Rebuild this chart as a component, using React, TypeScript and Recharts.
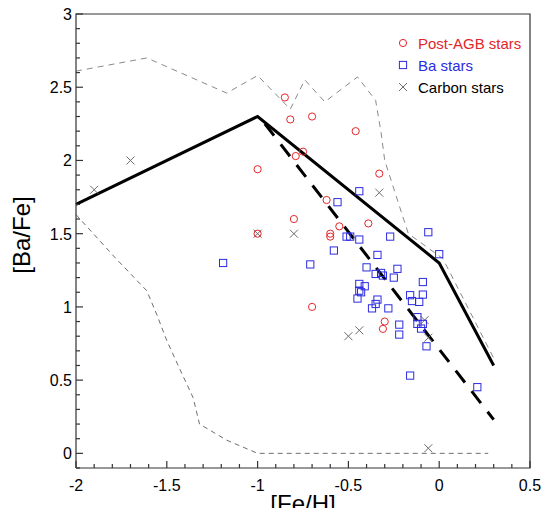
import { ComposedChart, Line, Scatter, XAxis, YAxis } from "recharts";

// [Fe/H], [Ba/Fe]
const postAgbStars = [
  { x: -1.0, y: 1.94 }, { x: -1.0, y: 1.5 }, { x: -0.85, y: 2.43 }, { x: -0.82, y: 2.28 },
  { x: -0.7, y: 2.3 }, { x: -0.46, y: 2.2 }, { x: -0.79, y: 2.03 }, { x: -0.75, y: 2.06 },
  { x: -0.33, y: 1.91 }, { x: -0.62, y: 1.73 }, { x: -0.8, y: 1.6 }, { x: -0.55, y: 1.55 },
  { x: -0.39, y: 1.57 }, { x: -0.6, y: 1.5 }, { x: -0.6, y: 1.48 }, { x: -0.7, y: 1.0 },
  { x: -0.3, y: 0.9 }, { x: -0.31, y: 0.85 },
];

const baStars = [
  { x: -1.19, y: 1.3 }, { x: -0.44, y: 1.79 }, { x: -0.56, y: 1.715 }, { x: -0.06, y: 1.51 },
  { x: -0.51, y: 1.48 }, { x: -0.49, y: 1.48 }, { x: -0.44, y: 1.46 }, { x: -0.27, y: 1.48 },
  { x: -0.58, y: 1.385 }, { x: -0.34, y: 1.355 }, { x: 0.0, y: 1.36 }, { x: -0.71, y: 1.29 },
  { x: -0.4, y: 1.27 }, { x: -0.35, y: 1.225 }, { x: -0.32, y: 1.232 }, { x: -0.31, y: 1.214 },
  { x: -0.23, y: 1.26 }, { x: -0.25, y: 1.2 }, { x: -0.44, y: 1.157 }, { x: -0.41, y: 1.141 },
  { x: -0.44, y: 1.111 }, { x: -0.43, y: 1.1 }, { x: -0.45, y: 1.057 }, { x: -0.34, y: 1.05 },
  { x: -0.35, y: 1.02 }, { x: -0.37, y: 0.99 }, { x: -0.28, y: 0.99 }, { x: -0.16, y: 1.08 },
  { x: -0.15, y: 1.04 }, { x: -0.09, y: 1.17 }, { x: -0.09, y: 1.084 }, { x: -0.11, y: 1.034 },
  { x: -0.12, y: 0.93 }, { x: -0.12, y: 0.884 }, { x: -0.09, y: 0.884 }, { x: -0.1, y: 0.852 },
  { x: -0.22, y: 0.879 }, { x: -0.22, y: 0.811 }, { x: -0.07, y: 0.731 }, { x: -0.16, y: 0.531 },
  { x: 0.21, y: 0.452 },
];

const carbonStars = [
  { x: -1.9, y: 1.8 }, { x: -1.7, y: 2.0 }, { x: -1.0, y: 1.5 }, { x: -0.8, y: 1.5 },
  { x: -0.33, y: 1.78 }, { x: -0.5, y: 0.8 }, { x: -0.44, y: 0.84 }, { x: -0.08, y: 0.91 },
  { x: -0.06, y: 0.79 }, { x: -0.06, y: 0.035 },
];

const modelSolid = [
  { x: -2, y: 1.7 }, { x: -1, y: 2.3 }, { x: 0, y: 1.3 }, { x: 0.3, y: 0.6 },
];

const modelDashed = [
  { x: -0.96, y: 2.25 }, { x: 0.3, y: 0.23 },
];

const upperEnvelope = [
  { x: -2, y: 2.61 }, { x: -1.61, y: 2.7 }, { x: -1.17, y: 2.46 }, { x: -1.0, y: 2.58 },
  { x: -0.82, y: 2.35 }, { x: -0.74, y: 2.55 }, { x: -0.63, y: 2.4 }, { x: -0.45, y: 2.57 },
  { x: -0.35, y: 2.41 }, { x: -0.32, y: 2.19 }, { x: -0.3, y: 2.0 }, { x: -0.23, y: 1.73 },
  { x: -0.17, y: 1.5 }, { x: 0.02, y: 1.33 }, { x: 0.3, y: 0.65 },
];

const lowerEnvelope = [
  { x: -2, y: 1.63 }, { x: -1.78, y: 1.33 }, { x: -1.61, y: 1.11 }, { x: -1.556, y: 0.95 },
  { x: -1.5, y: 0.77 }, { x: -1.43, y: 0.58 }, { x: -1.355, y: 0.38 }, { x: -1.32, y: 0.2 },
  { x: -1.17, y: 0.09 }, { x: -1.0, y: 0.0 }, { x: 0.27, y: 0.0 },
];

const X_DOMAIN = [-2, 0.5];
const Y_DOMAIN = [-0.1, 3];
const X_MAJOR = [-2, -1.5, -1, -0.5, 0, 0.5];
const X_TICKS = [
  -2, -1.9, -1.8, -1.7, -1.6, -1.5, -1.4, -1.3, -1.2, -1.1, -1, -0.9, -0.8, -0.7, -0.6,
  -0.5, -0.4, -0.3, -0.2, -0.1, 0, 0.1, 0.2, 0.3, 0.4, 0.5,
];
const Y_MAJOR = [0, 0.5, 1, 1.5, 2, 2.5, 3];
const Y_TICKS = [
  -0.1, 0, 0.1, 0.2, 0.3, 0.4, 0.5, 0.6, 0.7, 0.8, 0.9, 1, 1.1, 1.2, 1.3, 1.4, 1.5, 1.6,
  1.7, 1.8, 1.9, 2, 2.1, 2.2, 2.3, 2.4, 2.5, 2.6, 2.7, 2.8, 2.9, 3,
];

// plot frame, drawn through the scales along the domain edges
const frameBox = [
  { x: X_DOMAIN[0], y: Y_DOMAIN[0] }, { x: X_DOMAIN[1], y: Y_DOMAIN[0] },
  { x: X_DOMAIN[1], y: Y_DOMAIN[1] }, { x: X_DOMAIN[0], y: Y_DOMAIN[1] },
  { x: X_DOMAIN[0], y: Y_DOMAIN[0] },
];

const FONT = "'Liberation Sans', Arial, Helvetica, sans-serif";
const RED = "#e3262b";
const BLUE = "#2b2be0";
const GREY = "#6b6b6b";
const FRAME = "#333338";
const FRAME_W = 1.2;
const MAJOR_LEN = 7;
const MINOR_LEN = 4;
// axes need a positive size to render, but should take no room
const THIN = 0.001;

const isMajor = (v: number, majors: number[]) => majors.some((m) => Math.abs(m - v) < 1e-6);

// ticks point into the plot; labels only on the bottom and left
function makeTick(side: "bottom" | "top" | "left" | "right") {
  return (p: any) => {
    const v = p.payload.value;
    const major = isMajor(v, side === "bottom" || side === "top" ? X_MAJOR : Y_MAJOR);
    const len = major ? MAJOR_LEN : MINOR_LEN;
    const x = Number(p.x);
    const y = Number(p.y);
    let x2 = x;
    let y2 = y;
    if (side === "bottom") y2 = y - len;
    else if (side === "top") y2 = y + len;
    else if (side === "left") x2 = x + len;
    else x2 = x - len;
    return (
      <g>
        <line x1={x} y1={y} x2={x2} y2={y2} stroke={FRAME} strokeWidth={FRAME_W} />
        {major && side === "bottom" && (
          <text x={x} y={y + 23} textAnchor="middle" fontSize={16} fontFamily={FONT} fill="#000">
            {String(v)}
          </text>
        )}
        {major && side === "left" && (
          <text x={x - 4} y={y + 6} textAnchor="end" fontSize={16} fontFamily={FONT} fill="#000">
            {String(v)}
          </text>
        )}
      </g>
    );
  };
}

const Circle = (p: any) => (
  <circle cx={p.cx} cy={p.cy} r={3.6} fill="none" stroke={RED} strokeWidth={1} />
);
const Square = (p: any) => (
  <rect x={p.cx - 3.6} y={p.cy - 3.6} width={7.2} height={7.2} fill="none" stroke={BLUE} strokeWidth={1} />
);
const Cross = (p: any) => (
  <path
    d={`M${p.cx - 4},${p.cy - 4}L${p.cx + 4},${p.cy + 4}M${p.cx + 4},${p.cy - 4}L${p.cx - 4},${p.cy + 4}`}
    stroke={GREY}
    strokeWidth={1}
    fill="none"
  />
);

const LEGEND_ROWS = [
  { name: "Post-AGB stars", color: RED, mark: "circle" },
  { name: "Ba stars", color: BLUE, mark: "square" },
  { name: "Carbon stars", color: "#000", mark: "cross" },
];

function LegendBox() {
  return (
    <div style={{ position: "absolute", left: 397, top: 32, fontFamily: FONT, fontSize: 15 }}>
      {LEGEND_ROWS.map((r) => (
        <div key={r.name} style={{ display: "flex", alignItems: "center", height: 22 }}>
          <svg width={12} height={12} style={{ marginRight: 9 }}>
            {r.mark === "circle" && <Circle cx={6} cy={6} />}
            {r.mark === "square" && <Square cx={6} cy={6} />}
            {r.mark === "cross" && <Cross cx={6} cy={6} />}
          </svg>
          <span style={{ color: r.color }}>{r.name}</span>
        </div>
      ))}
    </div>
  );
}

const YTitle = ({ viewBox }: any) => {
  const cx = viewBox.x - 46;
  const cy = viewBox.y + viewBox.height / 2 - 6;
  return (
    <text x={cx} y={cy} transform={`rotate(-90 ${cx} ${cy})`} textAnchor="middle" fontSize={24} fontFamily={FONT} fill="#000">
      [Ba/Fe]
    </text>
  );
};

const XTitle = ({ viewBox }: any) => {
  const cx = viewBox.x + viewBox.width / 2;
  const cy = viewBox.y + 44;
  return (
    <text x={cx} y={cy} textAnchor="middle" fontSize={24} fontFamily={FONT} fill="#000">
      [Fe/H]
    </text>
  );
};

export default function App() {
  return (
    <div style={{ margin: -8, position: "relative", width: 551, height: 516 }}>
      <ComposedChart width={551} height={516} margin={{ top: 14, right: 21, bottom: 48, left: 76 }}>
        <XAxis
          xAxisId="x" type="number" dataKey="x" domain={X_DOMAIN} ticks={X_TICKS}
          interval={0} height={THIN} tickSize={0} tickMargin={0} tickLine={false} axisLine={false}
          tick={makeTick("bottom")} label={<XTitle />}
        />
        <XAxis
          xAxisId="xTop" orientation="top" type="number" dataKey="x" domain={X_DOMAIN}
          ticks={X_TICKS} interval={0} height={THIN} tickSize={0} tickMargin={0} tickLine={false}
          axisLine={false} tick={makeTick("top")}
        />
        <YAxis
          yAxisId="y" type="number" dataKey="y" domain={Y_DOMAIN} ticks={Y_TICKS}
          interval={0} width={THIN} tickSize={0} tickMargin={0} tickLine={false} axisLine={false}
          tick={makeTick("left")} label={<YTitle />}
        />
        <YAxis
          yAxisId="yRight" orientation="right" type="number" dataKey="y" domain={Y_DOMAIN}
          ticks={Y_TICKS} interval={0} width={THIN} tickSize={0} tickMargin={0} tickLine={false}
          axisLine={false} tick={makeTick("right")}
        />

        <Line data={upperEnvelope} xAxisId="x" yAxisId="y" dataKey="y" type="linear" stroke="#8a8a8a"
          strokeWidth={1} strokeDasharray="6 5" dot={false} isAnimationActive={false} />
        <Line data={lowerEnvelope} xAxisId="x" yAxisId="y" dataKey="y" type="linear" stroke="#6e6e6e"
          strokeWidth={1} strokeDasharray="5 4" dot={false} isAnimationActive={false} />
        <Line data={modelSolid} xAxisId="x" yAxisId="y" dataKey="y" type="linear" stroke="#000"
          strokeWidth={3} dot={false} isAnimationActive={false} />
        <Line data={modelDashed} xAxisId="x" yAxisId="y" dataKey="y" type="linear" stroke="#000"
          strokeWidth={3} strokeDasharray="15 11" dot={false} isAnimationActive={false} />
        <Line data={frameBox} xAxisId="x" yAxisId="y" dataKey="y" type="linear" stroke={FRAME}
          strokeWidth={FRAME_W} dot={false} activeDot={false} isAnimationActive={false} />

        <Scatter name="Carbon stars" data={carbonStars} xAxisId="x" yAxisId="y" shape={Cross} isAnimationActive={false} />
        <Scatter name="Ba stars" data={baStars} xAxisId="x" yAxisId="y" shape={Square} isAnimationActive={false} />
        <Scatter name="Post-AGB stars" data={postAgbStars} xAxisId="x" yAxisId="y" shape={Circle} isAnimationActive={false} />
      </ComposedChart>
      <LegendBox />
    </div>
  );
}
